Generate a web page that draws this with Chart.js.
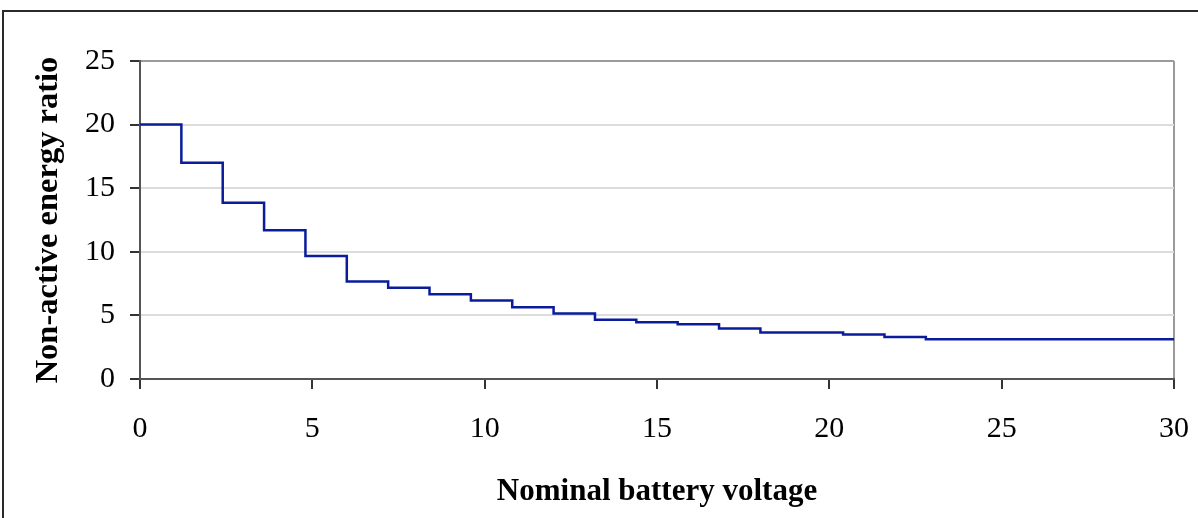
<!DOCTYPE html>
<html>
<head>
<meta charset="utf-8">
<script src="https://cdn.jsdelivr.net/npm/chart.js@4/dist/chart.umd.min.js"></script>
<style>
  html, body { margin: 0; padding: 0; background: #fff; }
  #wrap { position: relative; width: 1198px; height: 518px; overflow: hidden; }
  #frame { position: absolute; left: 2px; top: 10px; width: 1300px; height: 600px;
           border-top: 2px solid #2a2a2a; border-left: 2px solid #2a2a2a; }
  canvas { position: absolute; left: 0; top: 0; }
</style>
</head>
<body>
<div id="wrap">
  <div id="frame"></div>
  <canvas id="c" width="1198" height="518"></canvas>
</div>
<script>
// Nominal battery voltage (V) at each step start
const voltages = [0, 1.2, 2.4, 3.6, 4.8, 6.0, 7.2, 8.4, 9.6, 10.8, 12.0, 13.2, 14.4, 15.6, 16.8, 18.0, 19.2, 20.4, 21.6, 22.8, 24.0, 30];
// Non-active energy ratio
const ratios = [20, 17, 13.86, 11.7, 9.67, 7.67, 7.17, 6.67, 6.17, 5.65, 5.15, 4.65, 4.46, 4.31, 3.97, 3.65, 3.65, 3.5, 3.31, 3.13, 3.13, 3.13];
const xTitle = 'Nominal battery voltage';
const yTitle = 'Non-active energy ratio';

const points = voltages.map((v, i) => ({ x: v, y: ratios[i] }));
const serif = 'Liberation Serif, "Times New Roman", serif';

new Chart(document.getElementById('c'), {
  type: 'line',
  data: {
    datasets: [{
      data: points,
      stepped: 'before',
      borderColor: '#0a1c9c',
      borderWidth: 2.5,
      pointRadius: 0,
      fill: false
    }]
  },
  options: {
    responsive: false,
    animation: false,
    layout: { padding: { left: 0, top: 61, right: 24, bottom: 0 } },
    plugins: { legend: { display: false }, tooltip: { enabled: false } },
    scales: {
      x: {
        type: 'linear', min: 0, max: 30,
        ticks: { stepSize: 5, color: '#000', font: { family: serif, size: 30 }, padding: 22, maxRotation: 0 },
        grid: {
          color: ctx => ctx.tick && ctx.tick.value === 30 ? '#9a9a9a' : 'rgba(0,0,0,0)',
          tickColor: '#333', tickLength: 10, lineWidth: 2
        },
        border: { color: '#555', width: 2 },
        title: { display: true, text: xTitle, color: '#000', font: { family: serif, size: 31, weight: 'bold' }, padding: { top: 0, bottom: 7 } },
        afterFit: s => { s.height = 139; s.paddingRight = 0; s.paddingLeft = 0; }
      },
      y: {
        min: 0, max: 25,
        ticks: { stepSize: 5, color: '#000', font: { family: serif, size: 30 }, padding: 15 },
        grid: {
          color: ctx => ctx.tick && ctx.tick.value === 25 ? '#9a9a9a' : '#dcdcdc',
          tickColor: '#333', tickLength: 10, lineWidth: 2
        },
        border: { color: '#555', width: 2 },
        title: { display: true, text: yTitle, color: '#000', font: { family: serif, size: 32.5, weight: 'bold' }, padding: { top: 29, bottom: 0 } },
        afterFit: s => { s.width = 140; }
      }
    }
  }
});
</script>
</body>
</html>
